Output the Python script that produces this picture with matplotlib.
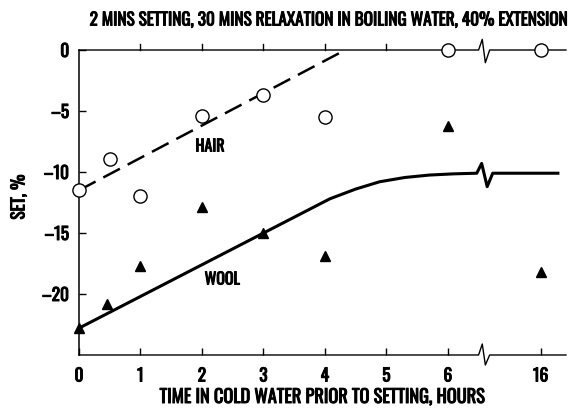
import numpy as np
import matplotlib
matplotlib.use('Agg')
import matplotlib.pyplot as plt
import matplotlib.patheffects as pe

plt.rcParams['font.family'] = ['Oswald', 'DejaVu Sans']
plt.rcParams['font.weight'] = 'bold'

# 头发（空心圆）数据
hair_hours = [0, 0.5, 1, 2, 3, 4, 6, 16]
hair_set = [-11.5, -8.9, -12.0, -5.4, -3.7, -5.5, 0, 0]
# 头发趋势线（虚线）
hair_line_hours = [0, 4.33]
hair_line_set = [-11.5, 0]

# 羊毛（实心三角）数据
wool_hours = [0, 0.45, 1, 2, 3, 4, 6, 16]
wool_set = [-22.8, -20.8, -17.7, -12.9, -15.0, -16.9, -6.2, -18.2]
# 羊毛趋势线（实线，含断轴处折线）
wool_line_hours = [0, 4.08, 4.5, 4.89, 5.3, 5.7, 6.1, 6.47, 6.55, 6.64, 6.73, 19.4]
wool_line_set = [-22.8, -12.2, -11.4, -10.8, -10.45, -10.25, -10.15, -10.1, -9.3, -11.2, -10.1, -10.1]

x_ticks = [0, 1, 2, 3, 4, 5, 6, 16]
y_ticks = [0, -5, -10, -15, -20]

# 断轴：6.75小时之后压缩
BREAK = 6.75
SQUEEZE = 0.0822

# 字体加粗效果
BOLD = [pe.withStroke(linewidth=0.7, foreground='black')]


def fwd(x):
    x = np.asarray(x, dtype=float)
    return np.where(x <= BREAK, x, BREAK + (x - BREAK) * SQUEEZE)


def inv(x):
    x = np.asarray(x, dtype=float)
    return np.where(x <= BREAK, x, BREAK + (x - BREAK) / SQUEEZE)


fig = plt.figure(figsize=(5.74, 4.15), dpi=100)
ax = fig.add_axes([0.1376, 0.1446, 0.8484, 0.7349])
ax.set_xscale('function', functions=(fwd, inv))
ax.set_xlim(0, 21)
ax.set_ylim(-25, 0)

for s in ['top', 'bottom', 'right']:
    ax.spines[s].set_visible(False)
ax.spines['left'].set_linewidth(1.1)

# 上下轴线（带断轴折线）
for y0, zz in [(0, [0, 0.87, -1.04, 0]), (-25, [0, 0.9, -0.82, 0])]:
    xs = [0, 6.50, 6.56, 6.61, 6.68, 21]
    ys = [y0, y0 + zz[0], y0 + zz[1], y0 + zz[2], y0 + zz[3], y0]
    ax.plot(xs, ys, color='black', lw=1.0, clip_on=False, zorder=2)

# 顶部刻度朝外
for t in x_ticks[1:]:
    ax.plot([t, t], [0, 0.5], color='black', lw=1.0, clip_on=False, zorder=2)

ax.set_xticks(x_ticks)
ax.set_xticklabels([str(t) for t in x_ticks])
ax.set_yticks(y_ticks)
ax.set_yticklabels([str(t).replace('-', '\u2013') for t in y_ticks])
ax.tick_params(axis='x', direction='in', length=5, width=1.0, pad=9, labelsize=12.5)
ax.tick_params(axis='y', direction='in', length=5, width=1.0, pad=7, labelsize=12.5)
for lbl in ax.get_xticklabels() + ax.get_yticklabels():
    lbl.set_path_effects(BOLD)

# 趋势线
ax.plot(hair_line_hours, hair_line_set, color='black', lw=1.8, dashes=(7.5, 3.5), zorder=3)
ax.plot(wool_line_hours, wool_line_set, color='black', lw=2.2, zorder=3)

# 数据点
ax.plot(hair_hours, hair_set, 'o', ms=9.5, mfc='white', mec='black', mew=1.0,
        clip_on=False, zorder=5)
ax.plot(wool_hours, wool_set, '^', ms=6.5, color='black', clip_on=False, zorder=5)

ax.text(2.13, -7.95, 'HAIR', ha='center', va='center', fontsize=11.5, path_effects=BOLD)
ax.text(2.33, -18.85, 'WOOL', ha='center', va='center', fontsize=11.5, path_effects=BOLD)

fig.text(329 / 574, 1 - 20 / 415, '2 MINS SETTING, 30 MINS RELAXATION IN BOILING WATER, 40% EXTENSION',
         ha='center', va='center', fontsize=12.4, path_effects=BOLD)
fig.text(322 / 574, 1 - 397 / 415, 'TIME IN COLD WATER PRIOR TO SETTING, HOURS',
         ha='center', va='center', fontsize=13.2, path_effects=BOLD)
fig.text(19 / 574, 1 - 197 / 415, 'SET, %', rotation=90, ha='center', va='center', fontsize=12.5,
         path_effects=BOLD)

fig.savefig('out.png', dpi=100)
